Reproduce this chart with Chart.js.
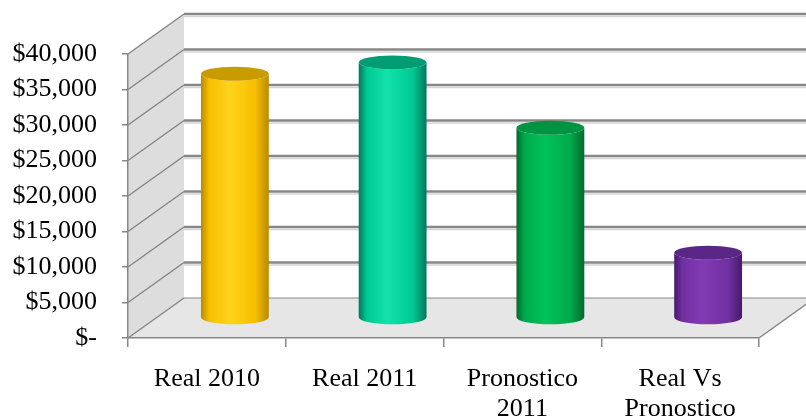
<!DOCTYPE html>
<html>
<head>
<meta charset="utf-8">
<script src="https://cdn.jsdelivr.net/npm/chart.js@4.4.1/dist/chart.umd.min.js"></script>
<style>
  html, body { margin: 0; padding: 0; background: #fff; }
</style>
</head>
<body>
<canvas id="chart" width="806" height="419"></canvas>
<script>
const categories = [['Real 2010'], ['Real 2011'], ['Pronostico', '2011'], ['Real Vs', 'Pronostico']];
const values = [34400, 36000, 26800, 9200];
const yMin = 0;
const yMax = 40000;
const yStep = 5000;

// cylinder shading per bar
const palette = [
    { light: '#ffd31c', mid: '#f6bf00', dark: '#b98a00', cap: '#c89b00' },
    { light: '#14e2aa', mid: '#00c994', dark: '#00785b', cap: '#009c74' },
    { light: '#00c25b', mid: '#00a94b', dark: '#006a2f', cap: '#009442' },
    { light: '#8439b4', mid: '#7030a0', dark: '#48196c', cap: '#5b2786' },
];

// 3D depth offset of the back wall
const DX = 56;
const DY = -40;
const gridColor = '#878787';

const walls = {
    id: 'walls',
    beforeDraw(chart) {
        const { ctx, chartArea: a, scales: { y } } = chart;
        const yTop = y.getPixelForValue(yMax);
        const yBot = y.getPixelForValue(yMin);
        ctx.save();
        // side wall
        ctx.fillStyle = '#dddddd';
        ctx.beginPath();
        ctx.moveTo(a.left, yTop);
        ctx.lineTo(a.left + DX, yTop + DY);
        ctx.lineTo(a.left + DX, yBot + DY);
        ctx.lineTo(a.left, yBot);
        ctx.closePath();
        ctx.fill();
        // floor
        ctx.fillStyle = '#e6e6e6';
        ctx.beginPath();
        ctx.moveTo(a.left, yBot);
        ctx.lineTo(a.left + DX, yBot + DY);
        ctx.lineTo(a.right + DX, yBot + DY);
        ctx.lineTo(a.right, yBot);
        ctx.closePath();
        ctx.fill();
        // gridlines on side and back wall
        for (let v = yMin; v <= yMax; v += yStep) {
            const py = y.getPixelForValue(v);
            ctx.strokeStyle = gridColor;
            ctx.lineWidth = 1.5;
            ctx.beginPath();
            ctx.moveTo(a.left, py);
            ctx.lineTo(a.left + DX, py + DY);
            ctx.stroke();
            ctx.lineWidth = v === yMin ? 1.2 : 2.5;
            ctx.beginPath();
            ctx.moveTo(a.left + DX, py + DY);
            ctx.lineTo(a.right + DX, py + DY);
            ctx.stroke();
            if (v !== yMin) {
                ctx.strokeStyle = '#d4d4d4';
                ctx.lineWidth = 1.5;
                ctx.beginPath();
                ctx.moveTo(a.left + DX, py + DY + 2.5);
                ctx.lineTo(a.right + DX, py + DY + 2.5);
                ctx.stroke();
            }
        }
        // right edge of the floor
        ctx.strokeStyle = gridColor;
        ctx.lineWidth = 1.5;
        ctx.beginPath();
        ctx.moveTo(a.right, yBot);
        ctx.lineTo(a.right + DX, yBot + DY);
        ctx.stroke();
        ctx.restore();
    },
};

const cylinders = {
    id: 'cylinders',
    afterDatasetsDraw(chart) {
        const { ctx } = chart;
        const meta = chart.getDatasetMeta(0);
        ctx.save();
        meta.data.forEach((bar, i) => {
            const p = palette[i];
            const cx = bar.x + DX / 2;
            const rx = bar.width / 2;
            const ry = 7;
            const top = bar.y + DY / 2;
            const base = bar.base + DY / 2;
            const l = cx - rx;
            const r = cx + rx;
            const g = ctx.createLinearGradient(l, 0, r, 0);
            g.addColorStop(0, p.dark);
            g.addColorStop(0.12, p.mid);
            g.addColorStop(0.42, p.light);
            g.addColorStop(0.8, p.mid);
            g.addColorStop(1, p.dark);
            ctx.fillStyle = g;
            ctx.beginPath();
            ctx.moveTo(l, top);
            ctx.lineTo(l, base);
            ctx.ellipse(cx, base, rx, ry, 0, Math.PI, 0, true);
            ctx.lineTo(r, top);
            ctx.ellipse(cx, top, rx, ry, 0, 0, Math.PI, false);
            ctx.closePath();
            ctx.fill();
            // top cap
            ctx.fillStyle = p.cap;
            ctx.beginPath();
            ctx.ellipse(cx, top, rx, ry, 0, 0, Math.PI * 2);
            ctx.fill();
        });
        ctx.restore();
    },
};

const font = { family: '"Liberation Serif", "Times New Roman", serif', size: 26, lineHeight: 1.15 };

new Chart(document.getElementById('chart'), {
    type: 'bar',
    data: {
        labels: categories,
        datasets: [
            {
                data: values,
                backgroundColor: 'rgba(0,0,0,0)',
                borderWidth: 0,
                categoryPercentage: 1,
                barPercentage: 0.43,
            },
        ],
    },
    options: {
        responsive: false,
        animation: false,
        layout: { padding: { top: 54, right: 47, left: 0, bottom: 0 } },
        plugins: { legend: { display: false }, tooltip: { enabled: false } },
        scales: {
            x: {
                grid: { drawOnChartArea: false, tickLength: 9, color: gridColor, lineWidth: 1.5 },
                border: { color: gridColor, width: 1.5 },
                ticks: { color: '#000', font, padding: 17, maxRotation: 0, autoSkip: false },
                afterFit: (scale) => { scale.height = 81; },
            },
            y: {
                min: yMin,
                max: yMax,
                grid: { drawOnChartArea: false, tickLength: 6, color: gridColor, lineWidth: 1.5 },
                border: { color: gridColor, width: 1.5 },
                ticks: {
                    stepSize: yStep,
                    color: '#000',
                    font,
                    padding: 25,
                    callback: (v) => (v === 0 ? '$-' : '$' + v.toLocaleString('en-US')),
                },
                afterFit: (scale) => { scale.width = 128; },
            },
        },
    },
    plugins: [walls, cylinders],
});
</script>
</body>
</html>
